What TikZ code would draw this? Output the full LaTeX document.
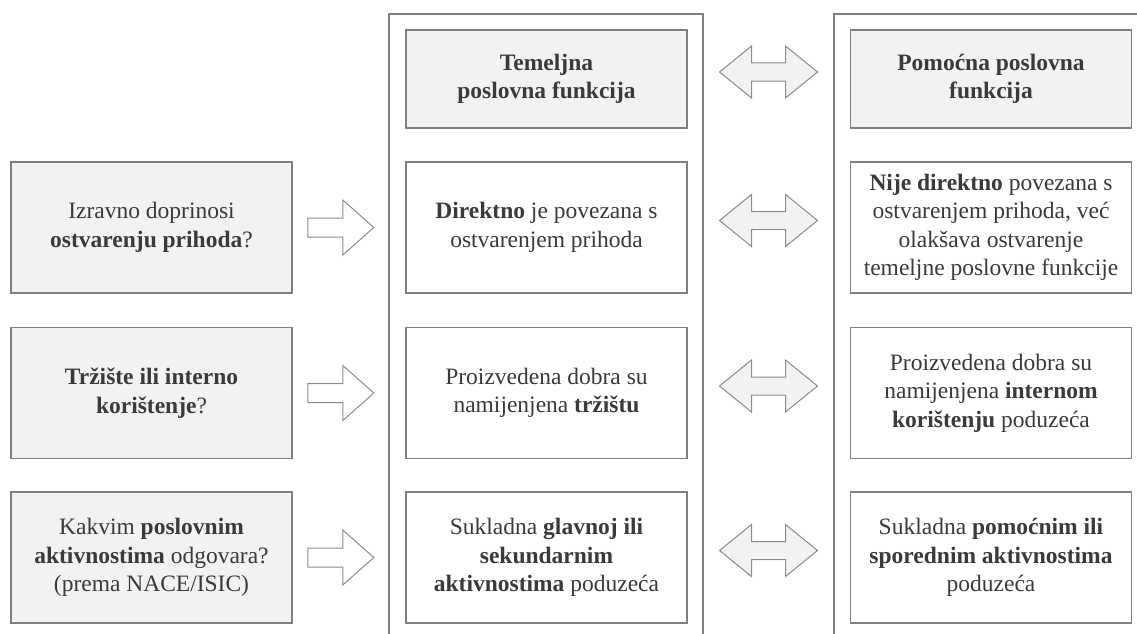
\documentclass[tikz,border=0pt]{standalone}
\usepackage{fontspec}
\setmainfont{Liberation Serif}
\usetikzlibrary{calc}
\definecolor{bordc}{HTML}{7F7F7F}
\definecolor{fillc}{HTML}{F2F2F2}
\definecolor{txtc}{HTML}{3A3A3A}
\definecolor{arrc}{HTML}{8C8C8C}
\tikzset{
  box/.style={draw=bordc, line width=1.3pt, fill=white, minimum width=281pt, minimum height=131pt,
    align=center, text=txtc, font=\fontsize{23.5}{28.5}\selectfont, inner sep=0pt},
  gbox/.style={box, fill=fillc},
  hbox/.style={gbox, minimum height=98pt},
  frame/.style={draw=bordc, line width=1.3pt},
  blockarrow/.style={draw=arrc, line width=1pt, line join=miter},
  rarrow/.pic={\draw[blockarrow, fill=white] (-33,-9.5) -- (2,-9.5) -- (2,-27.5) -- (33,0) -- (2,27.5) -- (2,9.5) -- (-33,9.5) -- cycle;},
  darrow/.pic={\draw[blockarrow, fill=fillc] (-49,0) -- (-17,-26) -- (-17,-9) -- (17,-9) -- (17,-26) -- (49,0) -- (17,26) -- (17,9) -- (-17,9) -- (-17,26) -- cycle;}
}
\begin{document}
\begin{tikzpicture}[x=1pt,y=-1pt]
\useasboundingbox (0,0) rectangle (1137,634);
% column frames
\coordinate (MFbl) at (389,634);
\coordinate (MFtl) at (389,14);
\coordinate (MFtr) at (703,14);
\coordinate (MFbr) at (703,634);
\coordinate (RFbl) at (834,634);
\coordinate (RFtl) at (834,14);
\coordinate (RFtr) at (1137,14);
\draw[frame] (MFbl) -- (MFtl) -- (MFtr) -- (MFbr);
\draw[frame] (RFbl) -- (RFtl) -- (RFtr);
% left questions
\node[gbox] (L1) at (151.5,227.5) {Izravno doprinosi\\\textbf{ostvarenju prihoda}?};
\node[gbox] (L2) at (151.5,393) {\textbf{Tržište ili interno}\\\textbf{korištenje}?};
\node[gbox] (L3) at (151.5,557.5) {Kakvim \textbf{poslovnim}\\\textbf{aktivnostima} odgovara?\\(prema NACE/ISIC)};
% middle column
\node[hbox] (MH) at (546.5,79) {\textbf{Temeljna}\\\textbf{poslovna funkcija}};
\node[box] (M1) at (546.5,227.5) {\textbf{Direktno} je povezana s\\ostvarenjem prihoda};
\node[box] (M2) at (546.5,393) {Proizvedena dobra su\\namijenjena \textbf{tržištu}};
\node[box] (M3) at (546.5,557.5) {Sukladna \textbf{glavnoj ili}\\\textbf{sekundarnim}\\\textbf{aktivnostima} poduzeća};
% right column
\node[hbox] (RH) at (991,79) {\textbf{Pomoćna poslovna}\\\textbf{funkcija}};
\node[box] (R1) at (991,227.5) {\textbf{Nije direktno} povezana s\\ostvarenjem prihoda, već\\olakšava ostvarenje\\temeljne poslovne funkcije};
\node[box] (R2) at (991,393) {Proizvedena dobra su\\namijenjena \textbf{internom}\\\textbf{korištenju} poduzeća};
\node[box] (R3) at (991,557.5) {Sukladna \textbf{pomoćnim ili}\\\textbf{sporednim aktivnostima}\\poduzeća};
% arrows
\coordinate (sa) at ($(L1.east)!0.5!(MFtl)$);
\coordinate (da) at ($(MFtr)!0.5!(RFtl)$);
\pic at (L1.center -| sa) {rarrow};
\pic at (L2.center -| sa) {rarrow};
\pic at (L3.center -| sa) {rarrow};
\pic at ($(MH.center -| da)+(0,-7)$) {darrow};
\pic at ($(M1.center -| da)+(0,-7)$) {darrow};
\pic at ($(M2.center -| da)+(0,-7)$) {darrow};
\pic at ($(M3.center -| da)+(0,-7)$) {darrow};
\end{tikzpicture}
\end{document}
